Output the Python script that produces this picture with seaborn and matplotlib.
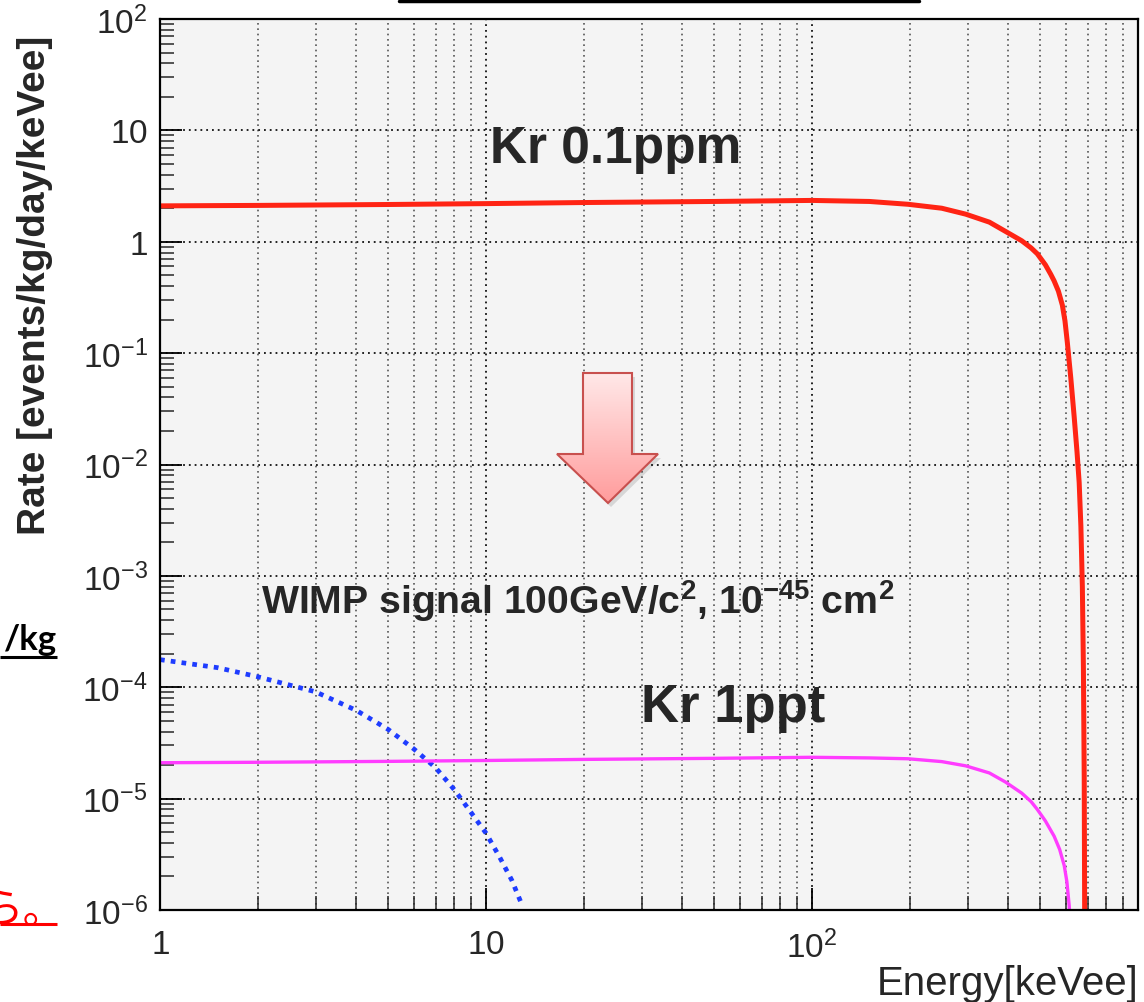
import numpy as np
import pandas as pd
import matplotlib
matplotlib.use("Agg")
import matplotlib.pyplot as plt
import seaborn as sns
from matplotlib.ticker import FixedLocator, LogLocator, NullFormatter, FixedFormatter
from matplotlib.patches import Polygon
from matplotlib.colors import LinearSegmentedColormap

# ---------------- data ----------------
energy_kr01 = [1, 2, 5, 10, 20, 50, 100, 150, 197, 250, 296, 350, 392, 440, 470, 491,
               520, 540, 553, 570, 586, 597, 607, 622, 637, 650, 660, 668, 675, 680, 684, 687]
rate_kr01ppm = [2.10, 2.12, 2.16, 2.20, 2.25, 2.30, 2.35, 2.30, 2.17, 2.0, 1.77, 1.5, 1.24, 1.02,
                0.88, 0.78, 0.62, 0.51, 0.445, 0.36, 0.27, 0.195, 0.125, 0.06, 0.027, 0.013,
                0.0069, 0.0028, 8e-4, 1.5e-4, 1.5e-5, 3e-7]

energy_kr1ppt = [1, 2, 5, 10, 20, 50, 100, 150, 197, 250, 296, 350, 392, 440, 470, 491,
                 520, 553, 575, 594, 605, 615, 622]
rate_kr1ppt = [2.10e-5, 2.12e-5, 2.16e-5, 2.20e-5, 2.25e-5, 2.30e-5, 2.35e-5, 2.32e-5, 2.28e-5,
               2.15e-5, 1.97e-5, 1.7e-5, 1.41e-5, 1.12e-5, 9.4e-6, 8.0e-6, 6.3e-6, 4.6e-6,
               3.5e-6, 2.5e-6, 1.8e-6, 1.1e-6, 6e-7]

energy_wimp = [1, 1.5, 2, 3, 4, 5, 6, 7, 8, 9, 10, 11, 12, 12.8]
rate_wimp = [1.77e-4, 1.5e-4, 1.24e-4, 9.1e-5, 6.2e-5, 4.2e-5, 2.8e-5, 1.9e-5, 1.2e-5,
             7.5e-6, 4.9e-6, 3.0e-6, 1.85e-6, 1.17e-6]

xticks = [1, 10, 100]
xtick_labels = [r"$\mathregular{1}$", r"$\mathregular{10}$", r"$\mathregular{10^{2}}$"]
yticks = [1e-6, 1e-5, 1e-4, 1e-3, 1e-2, 1e-1, 1, 10, 100]
ytick_labels = [r"$\mathregular{10^{-6}}$", r"$\mathregular{10^{-5}}$", r"$\mathregular{10^{-4}}$",
                r"$\mathregular{10^{-3}}$", r"$\mathregular{10^{-2}}$", r"$\mathregular{10^{-1}}$",
                r"$\mathregular{1}$", r"$\mathregular{10}$", r"$\mathregular{10^{2}}$"]

df_kr01 = pd.DataFrame({"Energy": energy_kr01, "Rate": rate_kr01ppm})
df_kr1 = pd.DataFrame({"Energy": energy_kr1ppt, "Rate": rate_kr1ppt})
df_wimp = pd.DataFrame({"Energy": energy_wimp, "Rate": rate_wimp})

# ---------------- style ----------------
sns.set_style("ticks")
plt.rcParams["font.family"] = ["Liberation Sans", "DejaVu Sans"]
plt.rcParams["mathtext.default"] = "regular"
plt.rcParams["axes.unicode_minus"] = False

W, H = 1144, 1003
fig = plt.figure(figsize=(W / 100, H / 100), dpi=100)
fig.patch.set_facecolor("white")

def fx(px):
    return px / W

def fy(py):
    return 1 - py / H

ax = fig.add_axes([fx(160), fy(911), (1138 - 160) / W, (911 - 20) / H])
ax.set_facecolor("#f4f4f4")
ax.set_xscale("log")
ax.set_yscale("log")
ax.set_axisbelow(True)

sns.lineplot(data=df_wimp, x="Energy", y="Rate", ax=ax, color="#1e3cff", lw=3.4,
             linestyle=(0, (1.0, 1.3)))
sns.lineplot(data=df_kr1, x="Energy", y="Rate", ax=ax, color="#ff3cff", lw=2.4)
sns.lineplot(data=df_kr01, x="Energy", y="Rate", ax=ax, color="#ff2414", lw=3.6)

ax.set_xlim(1, 1000)
ax.set_ylim(1e-6, 100)

ax.xaxis.set_major_locator(FixedLocator(xticks))
ax.xaxis.set_major_formatter(FixedFormatter(xtick_labels))
ax.xaxis.set_minor_locator(LogLocator(base=10, subs=np.arange(2, 10), numticks=50))
ax.xaxis.set_minor_formatter(NullFormatter())
ax.yaxis.set_major_locator(FixedLocator(yticks))
ax.yaxis.set_major_formatter(FixedFormatter(ytick_labels))
ax.yaxis.set_minor_locator(LogLocator(base=10, subs=np.arange(2, 10), numticks=50))
ax.yaxis.set_minor_formatter(NullFormatter())

ax.tick_params(which="major", direction="in", length=16, width=1.3, labelsize=24,
               top=False, right=False, color="black")
ax.tick_params(which="minor", direction="in", length=10, width=1.1, top=False, right=False)
ax.tick_params(axis="x", which="major", pad=14)
ax.tick_params(axis="y", which="major", pad=9)

ax.grid(which="major", axis="both", linestyle=(0, (1, 2.2)), linewidth=1.3, color="#111111")
ax.grid(which="minor", axis="x", linestyle=(0, (1, 2.2)), linewidth=1.2, color="#555555")
ax.grid(which="minor", axis="y", visible=False)

for sp in ax.spines.values():
    sp.set_linewidth(1.6)
    sp.set_color("black")

ax.set_xlabel("")
ax.set_ylabel("")

# axis titles (ROOT style)
fig.text(fx(35), fy(285), "Rate [events/kg/day/keVee]", rotation=90, ha="center", va="center",
         fontsize=28, fontweight="bold")
fig.text(fx(1138), fy(995), "Energy[keVee]", ha="right", va="baseline", fontsize=29)

# in-plot labels
fig.text(fx(490), fy(163), "Kr 0.1ppm", ha="left", va="baseline", fontsize=37, fontweight="bold")
fig.text(fx(261), fy(614), r"WIMP signal 100GeV/c$^{2}$, 10$^{-45}$ cm$^{2}$", ha="left",
         va="baseline", fontsize=28.3, fontweight="bold")
fig.text(fx(641), fy(722), "Kr 1ppt", ha="left", va="baseline", fontsize=38, fontweight="bold")

# ---------------- overlay (slide decorations) ----------------
ov = fig.add_axes([0, 0, 1, 1], zorder=10)
ov.set_xlim(0, W)
ov.set_ylim(H, 0)
ov.axis("off")
ov.patch.set_alpha(0)

# down arrow with gradient
arrow_pts = [(583, 374), (632, 374), (632, 455), (658, 455), (608, 504), (557, 455), (583, 455)]
shadow = Polygon([(x + 3, y + 4) for x, y in arrow_pts], closed=True, facecolor="#000000",
                 alpha=0.12, edgecolor="none")
ov.add_patch(shadow)
grad = np.linspace(0, 1, 256).reshape(-1, 1)
cmap = LinearSegmentedColormap.from_list("pinkgrad", ["#ffe8e8", "#ff9c9c"])
im = ov.imshow(grad, extent=(557, 658, 504, 374), cmap=cmap, aspect="auto", zorder=11)
clip = Polygon(arrow_pts, closed=True, transform=ov.transData, facecolor="none")
ov.add_patch(clip)
clip.set_visible(False)
im.set_clip_path(clip)
arrow = Polygon(arrow_pts, closed=True, facecolor="none", edgecolor="#c8504e", lw=1.5, zorder=12)
ov.add_patch(arrow)
ov.set_xlim(0, W)
ov.set_ylim(H, 0)

# cut-off slide texts on the left
ov.text(57, 650, "/kg", ha="right", va="baseline", fontsize=25, fontweight="bold",
        color="black", family=["Lato", "DejaVu Sans"])
ov.plot([0, 57], [658, 658], color="black", lw=2.2, solid_capstyle="butt")
ov.text(-18, 923, "ら。", ha="left", va="baseline", fontsize=30, color="#ff0000",
        family=["Noto Sans CJK JP", "DejaVu Sans"])
ov.plot([0, 57], [925, 925], color="#ff0000", lw=2.2, solid_capstyle="butt")

# bottom edge of a box above the plot
ov.plot([399, 919], [2, 2], color="black", lw=2.5, solid_capstyle="round")

fig.savefig("out.png", dpi=100, facecolor="white")
